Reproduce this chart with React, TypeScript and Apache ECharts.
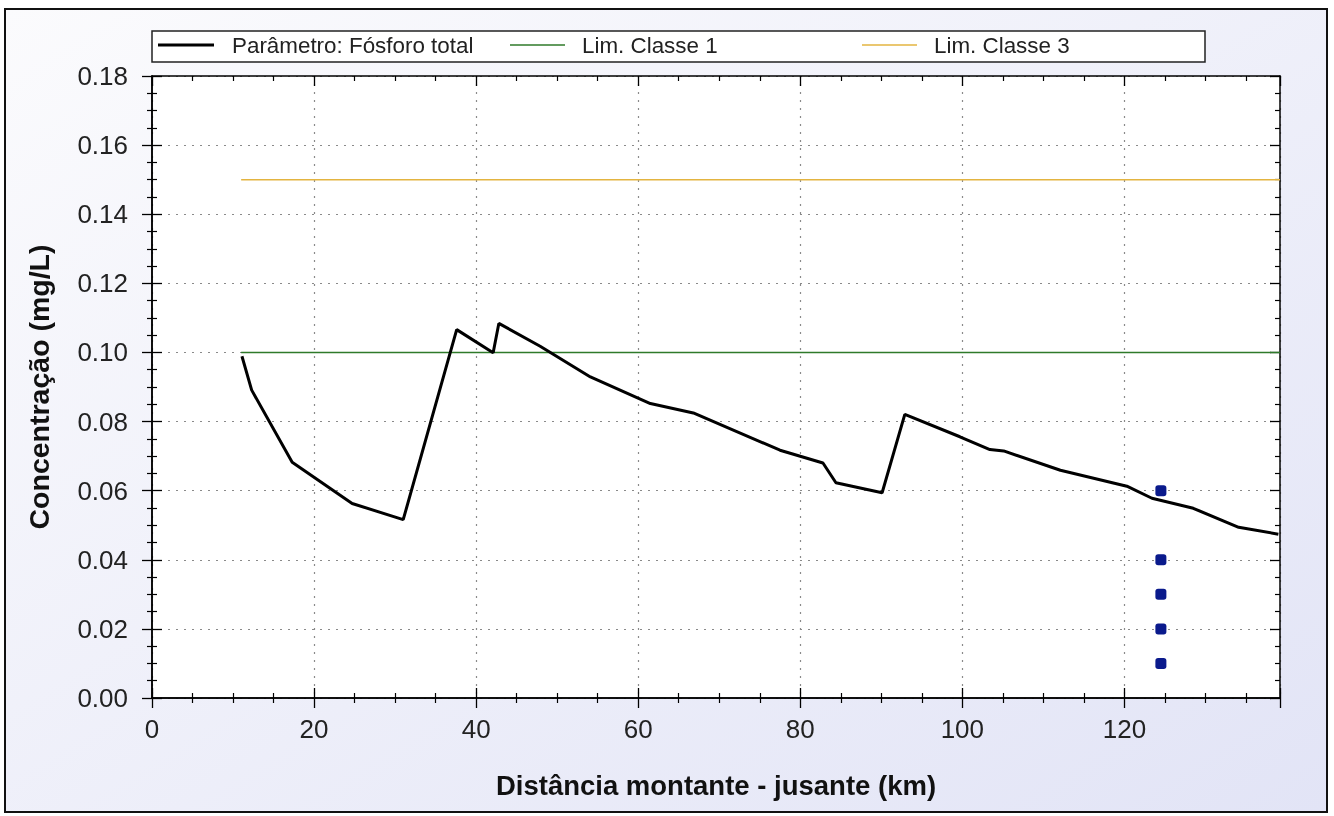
import React, { useEffect, useRef } from "react";
import * as echarts from "echarts";

// Data
const distanceKm = [11.1, 12.3, 17.3, 24.7, 31.0, 37.6, 42.1, 42.8, 47.9, 54.1, 61.5, 66.8, 77.5, 82.8, 84.4, 90.1, 92.9, 99.7, 103.4, 105.1, 112.1, 120.3, 123.4, 128.5, 134.1, 139.0];
const phosphorus = [0.0989, 0.0891, 0.0682, 0.0563, 0.0516, 0.1066, 0.0999, 0.1084, 0.1018, 0.0929, 0.0852, 0.0825, 0.0717, 0.068, 0.0623, 0.0594, 0.0821, 0.0756, 0.0719, 0.0715, 0.0659, 0.0613, 0.0578, 0.0549, 0.0494, 0.0474];
const limitStartKm = 11;
const limitEndKm = 139.2;
const limClasse1 = 0.1;
const limClasse3 = 0.15;
const observedKm = [124.5, 124.5, 124.5, 124.5, 124.5];
const observedValues = [0.06, 0.04, 0.03, 0.02, 0.01];

const seriesNames = ["Parâmetro: Fósforo total", "Lim. Classe 1", "Lim. Classe 3"];
const xTitle = "Distância montante - jusante (km)";
const yTitle = "Concentração (mg/L)";

const FONT = "'Liberation Sans', Arial, sans-serif";
const X_MIN = 0;
const X_MAX = 139.2;
const Y_MIN = 0;
const Y_MAX = 0.18;

export default function App() {
  const ref = useRef<HTMLDivElement>(null);

  useEffect(() => {
    if (!ref.current) return;
    const chart = echarts.init(ref.current, null, { renderer: "svg" });

    const baseX = {
      type: "value" as const,
      min: X_MIN,
      max: X_MAX,
      interval: 20,
      axisLine: { show: true, onZero: false, lineStyle: { color: "#000", width: 1.5 } },
      axisTick: { show: true, length: 10, lineStyle: { color: "#000", width: 1.3 } },
      minorTick: { show: true, splitNumber: 4, length: 5, lineStyle: { color: "#000", width: 1.2 } },
      axisLabel: { show: false },
      splitLine: { show: false },
    };
    const baseY = {
      type: "value" as const,
      min: Y_MIN,
      max: Y_MAX,
      interval: 0.02,
      axisLine: { show: true, onZero: false, lineStyle: { color: "#000", width: 1.5 } },
      axisTick: { show: true, length: 10, lineStyle: { color: "#000", width: 1.3 } },
      minorTick: { show: true, splitNumber: 4, length: 5, lineStyle: { color: "#000", width: 1.2 } },
      axisLabel: { show: false },
      splitLine: { show: false },
    };
    const gridDash = { color: "#8a8a8a", width: 1.2, type: [2, 6] as number[] };

    const lineData = distanceKm.map((x, i) => [x, phosphorus[i]]);
    const lim1Data = [[limitStartKm, limClasse1], [limitEndKm, limClasse1]];
    const lim3Data = [[limitStartKm, limClasse3], [limitEndKm, limClasse3]];
    const obsData = observedKm.map((x, i) => [x, observedValues[i]]);

    const legendItems = [
      { x1: 158, x2: 214, tx: 232, color: "#000", w: 3, name: seriesNames[0] },
      { x1: 510, x2: 565, tx: 582, color: "#2f7a2a", w: 1.5, name: seriesNames[1] },
      { x1: 862, x2: 917, tx: 934, color: "#e3b440", w: 1.5, name: seriesNames[2] },
    ];
    const legendY = 45;

    chart.setOption({
      animation: false,
      textStyle: { fontFamily: FONT },
      grid: {
        left: 152,
        top: 76,
        width: 1128,
        height: 622,
        show: true,
        backgroundColor: "#ffffff",
        borderWidth: 0,
        containLabel: false,
      },
      graphic: [
        {
          type: "rect",
          z: -10,
          shape: { x: 5, y: 9, width: 1322, height: 803 },
          style: {
            fill: new echarts.graphic.LinearGradient(0, 0, 1, 1, [
              { offset: 0, color: "#fbfbfd" },
              { offset: 1, color: "#e2e4f6" },
            ]),
            stroke: "#111",
            lineWidth: 2,
          },
        },
        {
          type: "rect",
          z: 5,
          shape: { x: 152, y: 31, width: 1053, height: 31 },
          style: { fill: "#ffffff", stroke: "#222", lineWidth: 1.5 },
        },
        ...legendItems.flatMap((it) => [
          {
            type: "line",
            z: 6,
            shape: { x1: it.x1, y1: legendY, x2: it.x2, y2: legendY },
            style: { stroke: it.color, lineWidth: it.w },
          },
          {
            type: "text",
            z: 6,
            x: it.tx,
            y: legendY,
            style: {
              text: it.name,
              fill: "#222",
              font: `22.4px ${FONT}`,
              verticalAlign: "middle",
              align: "left",
            },
          },
        ]),
      ],
      xAxis: [
        {
          ...baseX,
          position: "bottom",
          axisLabel: { show: true, fontSize: 26, margin: 18, color: "#222", fontFamily: FONT, showMaxLabel: false },
          splitLine: { show: true, lineStyle: gridDash },
          name: xTitle,
          nameLocation: "middle",
          nameGap: 73,
          nameTextStyle: { fontSize: 27.5, fontWeight: "bold", color: "#111", fontFamily: FONT },
        },
        { ...baseX, position: "bottom", axisTick: { ...baseX.axisTick, inside: true } },
        { ...baseX, position: "top", axisTick: { ...baseX.axisTick, inside: true } },
      ],
      yAxis: [
        {
          ...baseY,
          position: "left",
          axisLabel: {
            show: true,
            fontSize: 26,
            margin: 24,
            color: "#222",
            fontFamily: FONT,
            formatter: (v: number) => v.toFixed(2),
          },
          splitLine: { show: true, lineStyle: gridDash },
          name: yTitle,
          nameLocation: "middle",
          nameGap: 99,
          nameTextStyle: { fontSize: 28.5, fontWeight: "bold", color: "#111", fontFamily: FONT },
        },
        { ...baseY, position: "left", axisTick: { ...baseY.axisTick, inside: true } },
        { ...baseY, position: "right", axisTick: { ...baseY.axisTick, inside: true } },
      ],
      series: [
        {
          name: seriesNames[2],
          type: "line",
          data: lim3Data,
          symbol: "none",
          lineStyle: { color: "#e3b440", width: 1.5 },
          z: 3,
        },
        {
          name: seriesNames[1],
          type: "line",
          data: lim1Data,
          symbol: "none",
          lineStyle: { color: "#2f7a2a", width: 1.5 },
          z: 3,
        },
        {
          name: seriesNames[0],
          type: "line",
          data: lineData,
          symbol: "none",
          lineStyle: { color: "#000", width: 3 },
          z: 4,
        },
        {
          name: "Observado",
          type: "scatter",
          data: obsData,
          symbol: "roundRect",
          symbolSize: 11,
          itemStyle: { color: "#0a1a8c", opacity: 1 },
          z: 5,
        },
      ],
    });

    return () => chart.dispose();
  }, []);

  return (
    <div
      ref={ref}
      style={{ position: "fixed", left: 0, top: 0, width: 1334, height: 816 }}
    />
  );
}
